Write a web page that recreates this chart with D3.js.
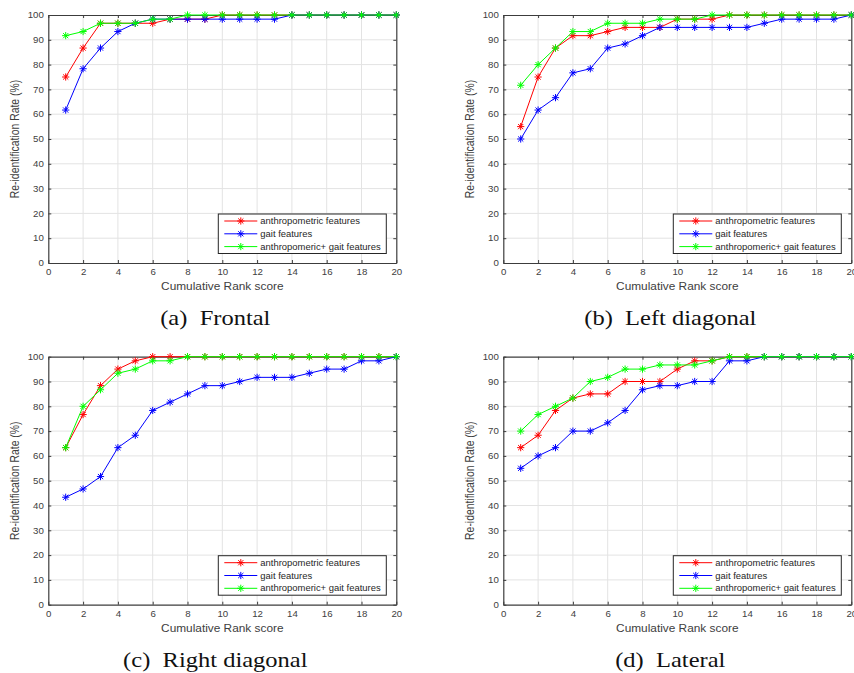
<!DOCTYPE html>
<html lang="en">
<head>
<meta charset="UTF-8">
<title>Re-identification rate vs cumulative rank</title>
<script src="https://d3js.org/d3.v7.min.js"></script>
<style>
    body { margin: 0; background: #fff; }
    svg { display: block; }
</style>
</head>
<body>
<main></main>
<script>
    // ---- data ----
    var ranks = [1,2,3,4,5,6,7,8,9,10,11,12,13,14,15,16,17,18,19,20];
    var xTicks = [0,2,4,6,8,10,12,14,16,18,20];
    var yTicks = [0,10,20,30,40,50,60,70,80,90,100];
    var seriesNames = ['anthropometric features', 'gait features', 'anthropomeric+ gait features'];

    var frontalAnthro   = [75, 86.67, 96.67, 96.67, 96.67, 96.67, 98.33, 98.33, 98.33, 100, 100, 100, 100, 100, 100, 100, 100, 100, 100, 100];
    var frontalGait     = [61.67, 78.33, 86.67, 93.33, 96.67, 98.33, 98.33, 98.33, 98.33, 98.33, 98.33, 98.33, 98.33, 100, 100, 100, 100, 100, 100, 100];
    var frontalCombined = [91.67, 93.33, 96.67, 96.67, 96.67, 98.33, 98.33, 100, 100, 100, 100, 100, 100, 100, 100, 100, 100, 100, 100, 100];

    var leftAnthro   = [55, 75, 86.67, 91.67, 91.67, 93.33, 95, 95, 95, 98.33, 98.33, 98.33, 100, 100, 100, 100, 100, 100, 100, 100];
    var leftGait     = [50, 61.67, 66.67, 76.67, 78.33, 86.67, 88.33, 91.67, 95, 95, 95, 95, 95, 95, 96.67, 98.33, 98.33, 98.33, 98.33, 100];
    var leftCombined = [71.67, 80, 86.67, 93.33, 93.33, 96.67, 96.67, 96.67, 98.33, 98.33, 98.33, 100, 100, 100, 100, 100, 100, 100, 100, 100];

    var rightAnthro   = [63.33, 76.67, 88.33, 95, 98.33, 100, 100, 100, 100, 100, 100, 100, 100, 100, 100, 100, 100, 100, 100, 100];
    var rightGait     = [43.33, 46.67, 51.67, 63.33, 68.33, 78.33, 81.67, 85, 88.33, 88.33, 90, 91.67, 91.67, 91.67, 93.33, 95, 95, 98.33, 98.33, 100];
    var rightCombined = [63.33, 80, 86.67, 93.33, 95, 98.33, 98.33, 100, 100, 100, 100, 100, 100, 100, 100, 100, 100, 100, 100, 100];

    var latAnthro   = [63.33, 68.33, 78.33, 83.33, 85, 85, 90, 90, 90, 95, 98.33, 98.33, 100, 100, 100, 100, 100, 100, 100, 100];
    var latGait     = [55, 60, 63.33, 70, 70, 73.33, 78.33, 86.67, 88.33, 88.33, 90, 90, 98.33, 98.33, 100, 100, 100, 100, 100, 100];
    var latCombined = [70, 76.67, 80, 83.33, 90, 91.67, 95, 95, 96.67, 96.67, 96.67, 98.33, 100, 100, 100, 100, 100, 100, 100, 100];

    var captions = ['(a)\u2002Frontal', '(b)\u2002Left diagonal', '(c)\u2002Right diagonal', '(d)\u2002Lateral'];
    var colors = ['#ff0000', '#0000ff', '#00ff00'];

    // ---- layout ----
    var w = 854, h = 673;
    var W = 348, H = 248;
    var SX = 1.14; // the figure is a bit stretched sideways
    var panels = [
        {left: 48.3,  top: 15,    cap: captions[0], data: [frontalAnthro, frontalGait, frontalCombined]},
        {left: 503.3, top: 15,    cap: captions[1], data: [leftAnthro, leftGait, leftCombined]},
        {left: 48.3,  top: 356.7, cap: captions[2], data: [rightAnthro, rightGait, rightCombined]},
        {left: 503.3, top: 356.7, cap: captions[3], data: [latAnthro, latGait, latCombined]}
    ];

    var svg = d3.select('main').append('svg')
        .attr('width', w)
        .attr('height', h)
        .style('background', '#fff');

    function label(sel, x, y, s, size, anchor, family, fill) {
        return sel.append('text')
            .attr('transform', 'translate(' + x + ',' + y + ') scale(' + SX + ',1)')
            .attr('font-family', family || '"Liberation Sans", Arial, sans-serif')
            .attr('font-size', size)
            .attr('text-anchor', anchor || 'start')
            .attr('fill', fill || '#404040')
            .text(s);
    }

    // MATLAB '*' marker
    function star(r) {
        var d = r * 0.72;
        return 'M' + (-r) + ',0H' + r + 'M0,' + (-r) + 'V' + r +
               'M' + (-d) + ',' + (-d) + 'L' + d + ',' + d +
               'M' + (-d) + ',' + d + 'L' + d + ',' + (-d);
    }

    panels.forEach(function(p) {
        var g = svg.append('g').attr('transform', 'translate(' + p.left + ',' + p.top + ')');
        var x = d3.scaleLinear().domain([0, 20]).range([0, W]);
        var y = d3.scaleLinear().domain([0, 100]).range([H, 0]);

        // grid
        g.append('g').selectAll('line').data(xTicks.slice(1, -1)).enter().append('line')
            .attr('x1', d => x(d)).attr('x2', d => x(d))
            .attr('y1', 0).attr('y2', H)
            .attr('stroke', '#e3e3e3').attr('stroke-width', 1);
        g.append('g').selectAll('line').data(yTicks.slice(1, -1)).enter().append('line')
            .attr('x1', 0).attr('x2', W)
            .attr('y1', d => y(d)).attr('y2', d => y(d))
            .attr('stroke', '#e3e3e3').attr('stroke-width', 1);

        // axes (ticks point inward, box on)
        var bottom = g.append('g').attr('transform', 'translate(0,' + H + ')')
            .call(d3.axisBottom(x).tickValues(xTicks).tickSizeInner(-3).tickSizeOuter(0).tickPadding(6));
        var left = g.append('g')
            .call(d3.axisLeft(y).tickValues(yTicks).tickSizeInner(-3).tickSizeOuter(0).tickPadding(4));
        var top = g.append('g')
            .call(d3.axisTop(x).tickValues(xTicks).tickSizeInner(-3).tickSizeOuter(0).tickFormat(''));
        var right = g.append('g').attr('transform', 'translate(' + W + ',0)')
            .call(d3.axisRight(y).tickValues(yTicks).tickSizeInner(-3).tickSizeOuter(0).tickFormat(''));

        [bottom, left, top, right].forEach(function(a) {
            a.select('.domain').attr('stroke', '#3c3c3c').attr('stroke-width', 1.2);
            a.selectAll('.tick line').attr('stroke', '#3c3c3c');
            a.selectAll('.tick text')
                .attr('font-family', '"Liberation Sans", Arial, sans-serif')
                .attr('font-size', 8.5)
                .attr('fill', '#404040');
        });
        bottom.selectAll('.tick text').attr('transform', 'scale(' + SX + ',1)');
        left.selectAll('.tick text').attr('x', -4.5 / SX).attr('transform', 'scale(' + SX + ',1)');

        // series
        var line = d3.line()
            .x(function(d, i) { return x(ranks[i]); })
            .y(function(d) { return y(d); });

        p.data.forEach(function(vals, k) {
            g.append('path')
                .datum(vals)
                .attr('d', line)
                .attr('fill', 'none')
                .attr('stroke', colors[k])
                .attr('stroke-width', 1);
            g.append('g').selectAll('path')
                .data(vals).enter().append('path')
                .attr('transform', function(d, i) { return 'translate(' + x(ranks[i]) + ',' + y(d) + ')'; })
                .attr('d', star(3.6))
                .attr('fill', 'none')
                .attr('stroke', colors[k])
                .attr('stroke-width', 1);
        });

        // axis titles
        label(g, W / 2, H + 27, 'Cumulative Rank score', 10.4, 'middle');
        g.append('text')
            .attr('transform', 'translate(-29,' + (H / 2) + ') scale(' + SX + ',1) rotate(-90)')
            .attr('font-family', '"Liberation Sans", Arial, sans-serif')
            .attr('font-size', 10.4)
            .attr('text-anchor', 'middle')
            .attr('fill', '#404040')
            .text('Re-identification Rate (%)');

        // legend
        var lw = 168, lh = 39.5;
        var lx = W - 10 - lw, ly = H - 9.5 - lh;
        var leg = g.append('g').attr('transform', 'translate(' + lx + ',' + ly + ')');
        leg.append('rect')
            .attr('width', lw).attr('height', lh)
            .attr('fill', '#fff').attr('stroke', '#262626').attr('stroke-width', 1);
        seriesNames.forEach(function(name, k) {
            var ry = 7 + k * 12.8;
            leg.append('line')
                .attr('x1', 6).attr('x2', 39).attr('y1', ry).attr('y2', ry)
                .attr('stroke', colors[k]).attr('stroke-width', 1);
            leg.append('path')
                .attr('transform', 'translate(22.5,' + ry + ')')
                .attr('d', star(3.6))
                .attr('fill', 'none').attr('stroke', colors[k]).attr('stroke-width', 1);
            label(leg, 42, ry + 3, name, 8.3, 'start', null, '#262626');
        });

        // caption under the panel
        label(g, W / 2 - 7, H + 62, p.cap, 21.5, 'middle', '"Liberation Serif", "Times New Roman", serif', '#111');
    });
</script>
</body>
</html>
